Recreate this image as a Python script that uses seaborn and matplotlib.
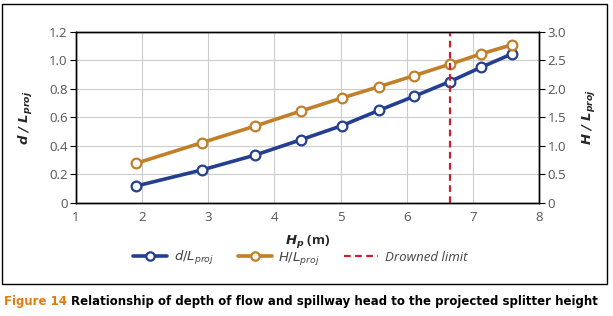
import matplotlib
matplotlib.use("Agg")
import matplotlib.pyplot as plt
import seaborn as sns
import pandas as pd
from matplotlib.lines import Line2D
from matplotlib.patches import Rectangle
from matplotlib import font_manager

hp = [1.91, 2.90, 3.71, 4.40, 5.02, 5.58, 6.11, 6.65, 7.12, 7.59]
d_l = [0.119, 0.231, 0.336, 0.443, 0.542, 0.649, 0.747, 0.850, 0.950, 1.044]
h_l = [0.695, 1.056, 1.348, 1.611, 1.839, 2.037, 2.230, 2.430, 2.610, 2.770]
drowned_limit = 6.65
x_ticks = [1, 2, 3, 4, 5, 6, 7, 8]
yl_ticks = [0, 0.2, 0.4, 0.6, 0.8, 1.0, 1.2]
yl_labels = ["0", "0.2", "0.4", "0.6", "0.8", "1.0", "1.2"]
yr_ticks = [0, 0.5, 1.0, 1.5, 2.0, 2.5, 3.0]
yr_labels = ["0", "0.5", "1.0", "1.5", "2.0", "2.5", "3.0"]

sns.set_theme(style="white")
plt.rcParams['font.family'] = ['Open Sans', 'DejaVu Sans']
plt.rcParams['mathtext.fontset'] = 'dejavusans'

BLUE = "#243F8F"
ORANGE = "#C27F2A"
RED = "#C8202F"
TICKC = "#555555"

names = {f.name for f in font_manager.fontManager.ttflist}
cap_family = "Liberation Sans Narrow" if "Liberation Sans Narrow" in names else "DejaVu Sans"

df = pd.DataFrame({"hp": hp, "d": d_l, "h": h_l})

fig = plt.figure(figsize=(6.13, 3.16), dpi=100)
ax = fig.add_axes([76/613, 1-203/316, (539-76)/613, (203-31.7)/316])
ax2 = ax.twinx()

mk = dict(marker="o", markersize=7, markerfacecolor="white", markeredgewidth=1.6, linewidth=2.6)
sns.lineplot(data=df, x="hp", y="d", ax=ax, color=BLUE, markeredgecolor=BLUE, **mk)
sns.lineplot(data=df, x="hp", y="h", ax=ax2, color=ORANGE, markeredgecolor=ORANGE, **mk)
ax2.axvline(drowned_limit, color=RED, linestyle=(0, (3, 2)), linewidth=1.6)

ax.set_xlim(1, 8)
ax.set_ylim(0, 1.2)
ax2.set_ylim(0, 3.0)
ax.set_xticks(x_ticks)
ax.set_xticklabels([str(v) for v in x_ticks])
ax.set_yticks(yl_ticks)
ax.set_yticklabels(yl_labels)
ax2.set_yticks(yr_ticks)
ax2.set_yticklabels(yr_labels)

ax.grid(True, color="#cccccc", linewidth=0.8)
ax.set_axisbelow(True)
ax2.grid(False)

for a in (ax, ax2):
    for s in a.spines.values():
        s.set_color("black")
        s.set_linewidth(1.0)
    a.tick_params(axis="both", direction="out", length=4, width=0.8, color="black",
                  labelcolor=TICKC, labelsize=9.5, pad=2)

ax.set_xlabel(r"$\mathbfit{H_p}$ (m)", fontsize=9.5, fontweight="bold", labelpad=6)
ax.set_ylabel(r"$\mathbfit{d\ /\ L_{proj}}$", fontsize=9.5, labelpad=10)
ax2.set_ylabel(r"$\mathbfit{H\ /\ L_{proj}}$", fontsize=9.5, labelpad=10, rotation=90)

handles = [
    Line2D([], [], color=BLUE, marker="o", markerfacecolor="white", markeredgecolor=BLUE,
           markersize=6, linewidth=2.6, markeredgewidth=1.6),
    Line2D([], [], color=ORANGE, marker="o", markerfacecolor="white", markeredgecolor=ORANGE,
           markersize=6, linewidth=2.6, markeredgewidth=1.6),
    Line2D([], [], color=RED, linestyle=(0, (3, 2)), linewidth=1.6),
]
labels = [r"$\mathit{d/L_{proj}}$", r"$\mathit{H/L_{proj}}$", "Drowned limit"]
leg = fig.legend(handles, labels, loc="center", bbox_to_anchor=(300/613, 1-258/316), ncol=3,
                 frameon=False, fontsize=9.5, handlelength=2.6, columnspacing=1.8, handletextpad=0.5)
for t in leg.get_texts():
    t.set_color("#444444")
leg.get_texts()[2].set_fontstyle("italic")

fig.patches.append(Rectangle((2/613, 1-284/316), 605/613, 280/316, transform=fig.transFigure,
                             fill=False, edgecolor="black", linewidth=1.0))

fs = 11.5 if cap_family != "DejaVu Sans" else 8.5
t1 = fig.text(4/613, 1-301/316, "Figure 14", color="#E07B10", fontsize=fs, fontweight="bold",
              va="center", ha="left", family=[cap_family, "DejaVu Sans"])
fig.canvas.draw()
bb = t1.get_window_extent()
fig.text((bb.x1 + 4)/613, 1-301/316,
         "Relationship of depth of flow and spillway head to the projected splitter height",
         color="black", fontsize=fs, fontweight="bold", va="center", ha="left",
         family=[cap_family, "DejaVu Sans"])

fig.savefig("out.png", dpi=100)
